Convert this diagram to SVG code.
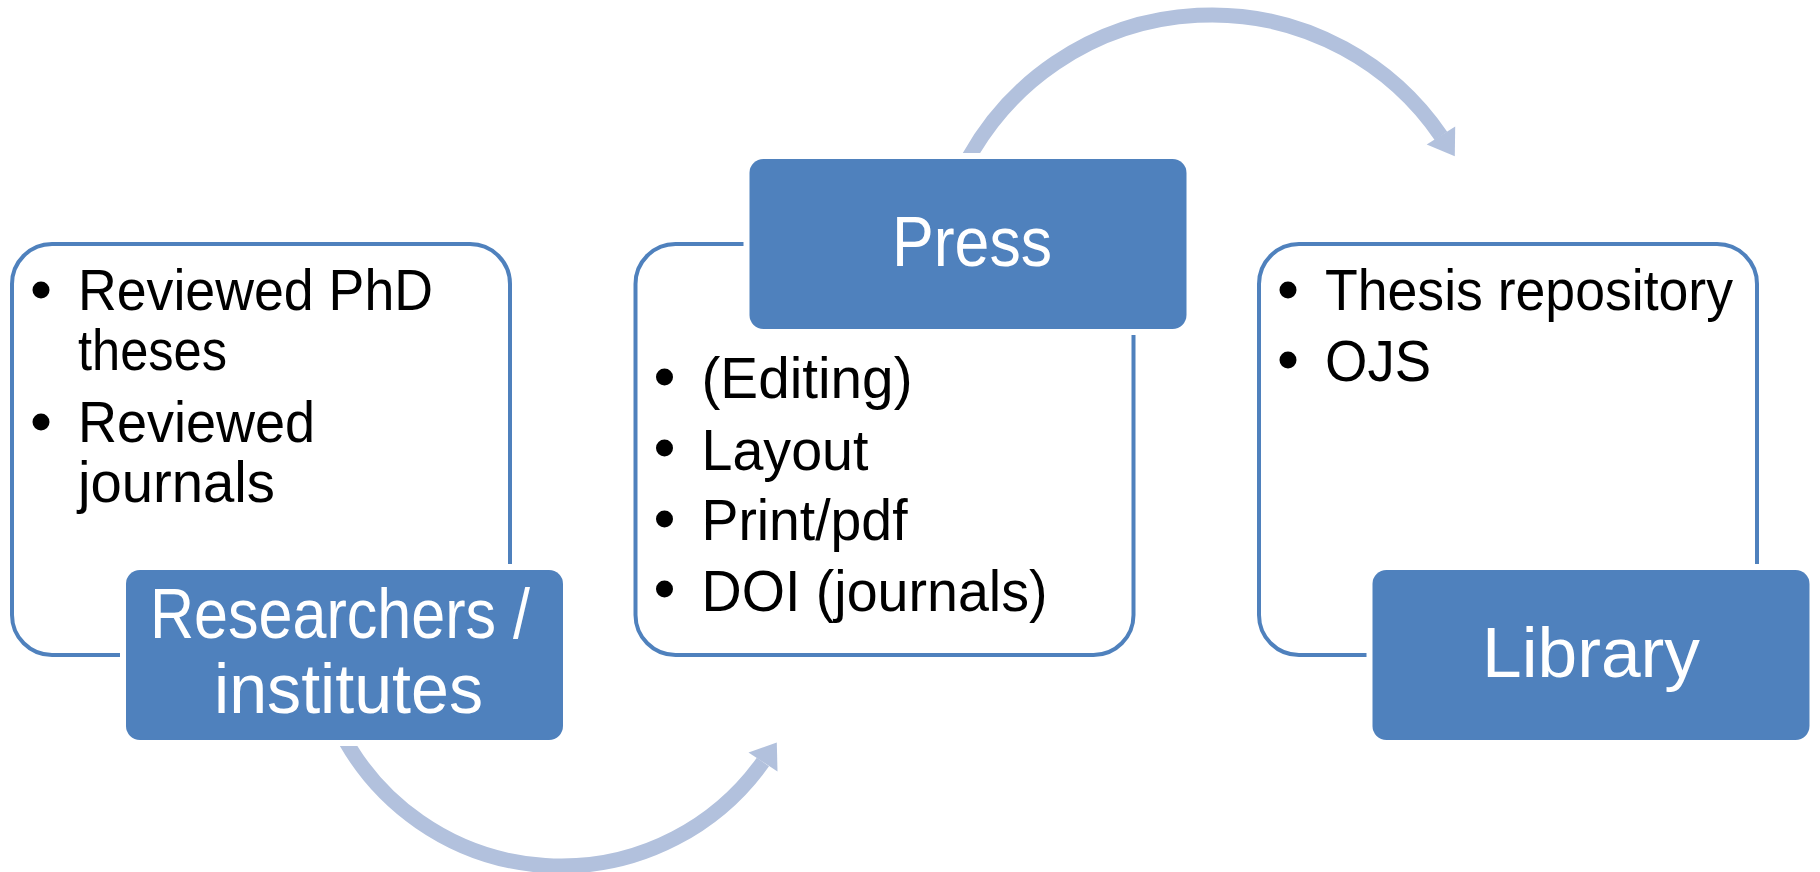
<svg xmlns="http://www.w3.org/2000/svg" width="1820" height="872" viewBox="0 0 1820 872">
<style>
.outline{fill:#fff;stroke:#4F81BD;stroke-width:4}
.halo{fill:#fff}
.head{fill:#4F81BD}
.ht{font-family:"Liberation Sans",Arial,sans-serif;font-size:70px;fill:#fff}
.bt{font-family:"Liberation Sans",Arial,sans-serif;font-size:57px;fill:#000}
.bul{fill:#000}
.arc{fill:none;stroke:#B2C1DD;stroke-width:15}
.ah{fill:#B2C1DD}
</style>
<defs>
<clipPath id="clipTop"><rect x="0" y="0" width="1820" height="153"/></clipPath>
<clipPath id="clipBot"><rect x="0" y="745" width="1820" height="127"/></clipPath>
</defs>
<g id="connectors">
<path class="arc" clip-path="url(#clipBot)" d="M 342.3,735 A 248 248 0 0 0 762.9,762"/>
<polygon class="ah" points="776.8,742.5 777.5,771.5 748.5,752.5"/>
<path class="arc" clip-path="url(#clipTop)" d="M 967.5,160 A 277.9 277.9 0 0 1 1441,136"/>
<polygon class="ah" points="1454.8,156.2 1455.2,126.4 1426.7,144.5"/>
</g>
<g id="researchers">
<rect class="outline" x="12" y="244" width="498" height="411" rx="40"/>
<circle class="bul" cx="41" cy="290" r="8.5"/>
<text class="bt" x="78" y="310" textLength="355" lengthAdjust="spacingAndGlyphs">Reviewed PhD</text>
<text class="bt" x="78" y="370" textLength="149" lengthAdjust="spacingAndGlyphs">theses</text>
<circle class="bul" cx="41" cy="422" r="8.5"/>
<text class="bt" x="78" y="442" textLength="237" lengthAdjust="spacingAndGlyphs">Reviewed</text>
<text class="bt" x="78" y="502" textLength="197" lengthAdjust="spacingAndGlyphs">journals</text>
<rect class="halo" x="120" y="564" width="449" height="182" rx="20"/>
<rect class="head" x="126" y="570" width="437" height="170" rx="14"/>
<text class="ht" x="150" y="638" textLength="380" lengthAdjust="spacingAndGlyphs">Researchers /</text>
<text class="ht" x="214" y="713" textLength="269" lengthAdjust="spacingAndGlyphs">institutes</text>
</g>
<g id="press">
<rect class="outline" x="635.5" y="244" width="498" height="411" rx="40"/>
<circle class="bul" cx="664.5" cy="377" r="8.5"/>
<text class="bt" x="701.5" y="398" textLength="211" lengthAdjust="spacingAndGlyphs">(Editing)</text>
<circle class="bul" cx="664.5" cy="448" r="8.5"/>
<text class="bt" x="701.5" y="470" textLength="167" lengthAdjust="spacingAndGlyphs">Layout</text>
<circle class="bul" cx="664.5" cy="519" r="8.5"/>
<text class="bt" x="701.5" y="540" textLength="206" lengthAdjust="spacingAndGlyphs">Print/pdf</text>
<circle class="bul" cx="664.5" cy="589" r="8.5"/>
<text class="bt" x="701.5" y="611" textLength="346" lengthAdjust="spacingAndGlyphs">DOI (journals)</text>
<rect class="halo" x="743.5" y="153" width="449" height="182" rx="20"/>
<rect class="head" x="749.5" y="159" width="437" height="170" rx="14"/>
<text class="ht" x="892" y="266" textLength="160" lengthAdjust="spacingAndGlyphs">Press</text>
</g>
<g id="library">
<rect class="outline" x="1259" y="244" width="498" height="411" rx="40"/>
<circle class="bul" cx="1288" cy="290" r="8.5"/>
<text class="bt" x="1325" y="310" textLength="408" lengthAdjust="spacingAndGlyphs">Thesis repository</text>
<circle class="bul" cx="1288" cy="360" r="8.5"/>
<text class="bt" x="1325" y="381" textLength="106" lengthAdjust="spacingAndGlyphs">OJS</text>
<rect class="halo" x="1366.5" y="564" width="449" height="182" rx="20"/>
<rect class="head" x="1372.5" y="570" width="437" height="170" rx="14"/>
<text class="ht" x="1482" y="677" textLength="218" lengthAdjust="spacingAndGlyphs">Library</text>
</g>
</svg>
